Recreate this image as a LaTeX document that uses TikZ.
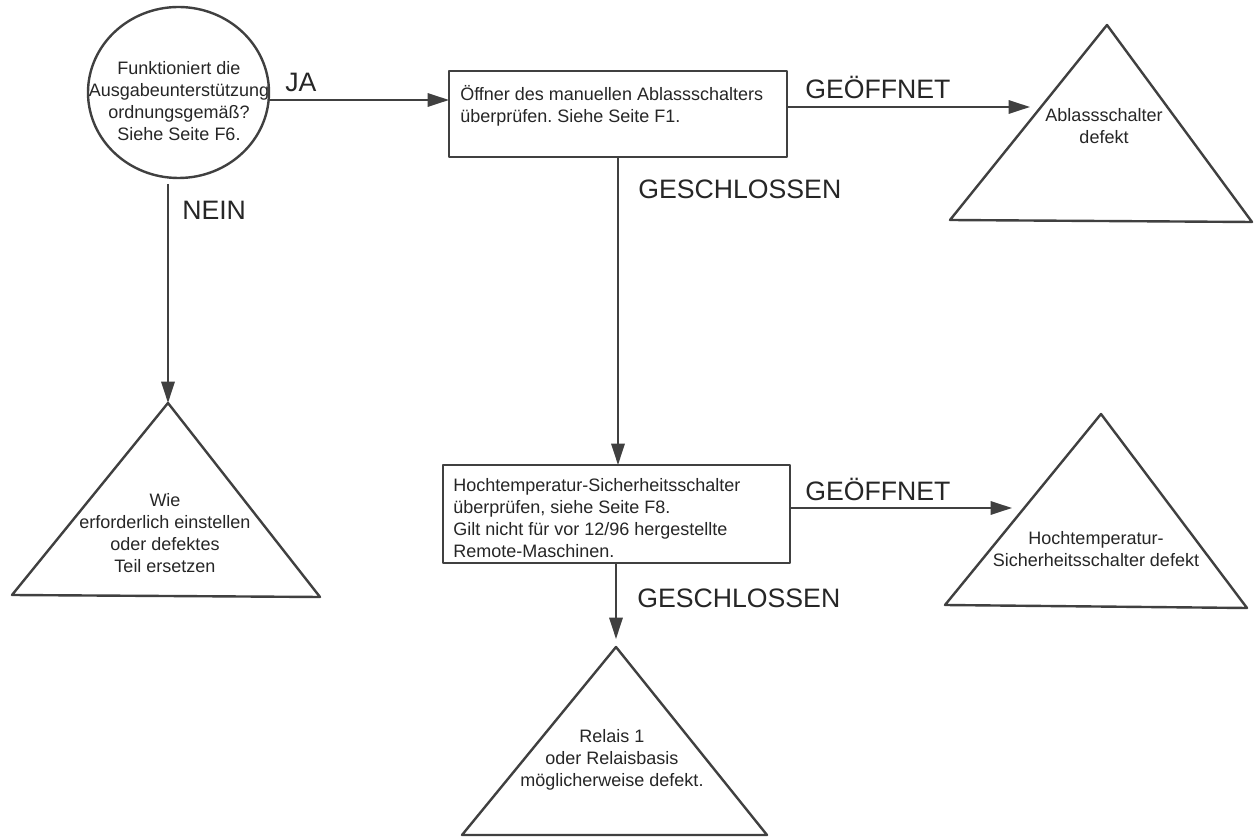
\documentclass[tikz,border=0pt]{standalone}
\usepackage{fontspec}
\setmainfont{Liberation Sans}
\usetikzlibrary{arrows.meta,shapes.geometric}
\definecolor{ink}{HTML}{404040}
\definecolor{txt}{HTML}{262626}
\frenchspacing
% text block whose first baseline is the node's base anchor
\newcommand\tstack[2]{\begin{tabular}[t]{@{}#1@{}}#2\end{tabular}}
\begin{document}
\begin{tikzpicture}[x=0.75pt,y=-0.75pt,
  outline/.style={draw=ink, line width=1.8pt, line join=round},
  flow/.style={draw=ink, line width=1.5pt, -{Triangle[length=16pt,width=10pt]}},
  small/.style={font=\fontsize{13.5}{16.5}\selectfont, text=txt, inner sep=0pt, anchor=base},
  tag/.style={font=\fontsize{20}{24}\selectfont, text=txt, inner sep=0pt, anchor=base west},
  boxst/.style={outline, rectangle, inner sep=0pt, outer sep=0pt},
]
\useasboundingbox[fill=white] (0,0) rectangle (1254,837);

% decision circle
\node[outline, ellipse, minimum width=135.75pt, minimum height=128.25pt, inner sep=0pt, outer sep=0pt] (q) at (178.5,92.5) {};
\node[small] (qtxt) at (179,75) {\tstack{c}{Funktioniert die\\Ausgabeunterstützung\\ordnungsgemäß?\\Siehe Seite F6.}};

% check boxes
\node[boxst, minimum width=253.5pt, minimum height=64.5pt] (b1) at (618,114) {};
\node[small] (b1txt) at (460,101) [anchor=base west] {\tstack{l}{Öffner des manuellen Ablassschalters\\überprüfen. Siehe Seite F1.}};

\node[boxst, minimum width=260.25pt, minimum height=73.5pt] (b2) at (616.5,514) {};
\node[small] (b2txt) at (453,492) [anchor=base west] {\tstack{l}{Hochtemperatur-Sicherheitsschalter\\überprüfen, siehe Seite F8.\\Gilt nicht für vor 12/96 hergestellte\\Remote-Maschinen.}};

% result triangles
\coordinate (t1a) at (1107,25);  \coordinate (t1l) at (950,220);  \coordinate (t1r) at (1252,222);
\coordinate (t2a) at (168,403);  \coordinate (t2l) at (12,595);   \coordinate (t2r) at (320,597);
\coordinate (t3a) at (616,647);  \coordinate (t3l) at (462,835);  \coordinate (t3r) at (767,835);
\coordinate (t4a) at (1101,414); \coordinate (t4l) at (945,605);  \coordinate (t4r) at (1247,608);
\draw[outline] (t1a) -- (t1l) -- (t1r) -- cycle;
\draw[outline] (t2a) -- (t2l) -- (t2r) -- cycle;
\draw[outline] (t3a) -- (t3l) -- (t3r) -- cycle;
\draw[outline] (t4a) -- (t4l) -- (t4r) -- cycle;

\node[small] (t1txt) at (1104,122) {\tstack{c}{Ablassschalter\\defekt}};
\node[small] (t2txt) at (165,507) {\tstack{c}{Wie\\erforderlich einstellen\\oder defektes\\Teil ersetzen}};
\node[small] (t3txt) at (612,743) {\tstack{c}{Relais 1\\oder Relaisbasis\\möglicherweise defekt.}};
\node[small] (t4txt) at (1096,545) {\tstack{c}{Hochtemperatur-\\Sicherheitsschalter defekt}};

% arrow ends short of the triangle sides
\coordinate (g1end) at (1030,107);
\coordinate (g2end) at (1012,508);

% connectors
\draw[flow] (q.east |- 0,100) -- (b1.west |- 0,100);
\draw[flow, shorten <=4.5pt] (t2a |- q.south) -- (t2a);
\draw[flow] (b1.south) -- (b1.south |- b2.north);
\draw[flow, shorten >=6pt] (b2.south -| t3a) -- (t3a);
\draw[flow] (b1.east |- g1end) -- (g1end);
\draw[flow] (b2.east |- g2end) -- (g2end);

% branch labels
\node[tag] (lja) at (285,92) {JA};
\node[tag] (lnein) at (182,220) {NEIN};
\node[tag] (lg1) at (638,199) {GESCHLOSSEN};
\node[tag] (lo1) at (805,99) {GEÖFFNET};
\node[tag] (lg2) at (637,608) {GESCHLOSSEN};
\node[tag] (lo2) at (805,501) {GEÖFFNET};
\end{tikzpicture}
\end{document}
